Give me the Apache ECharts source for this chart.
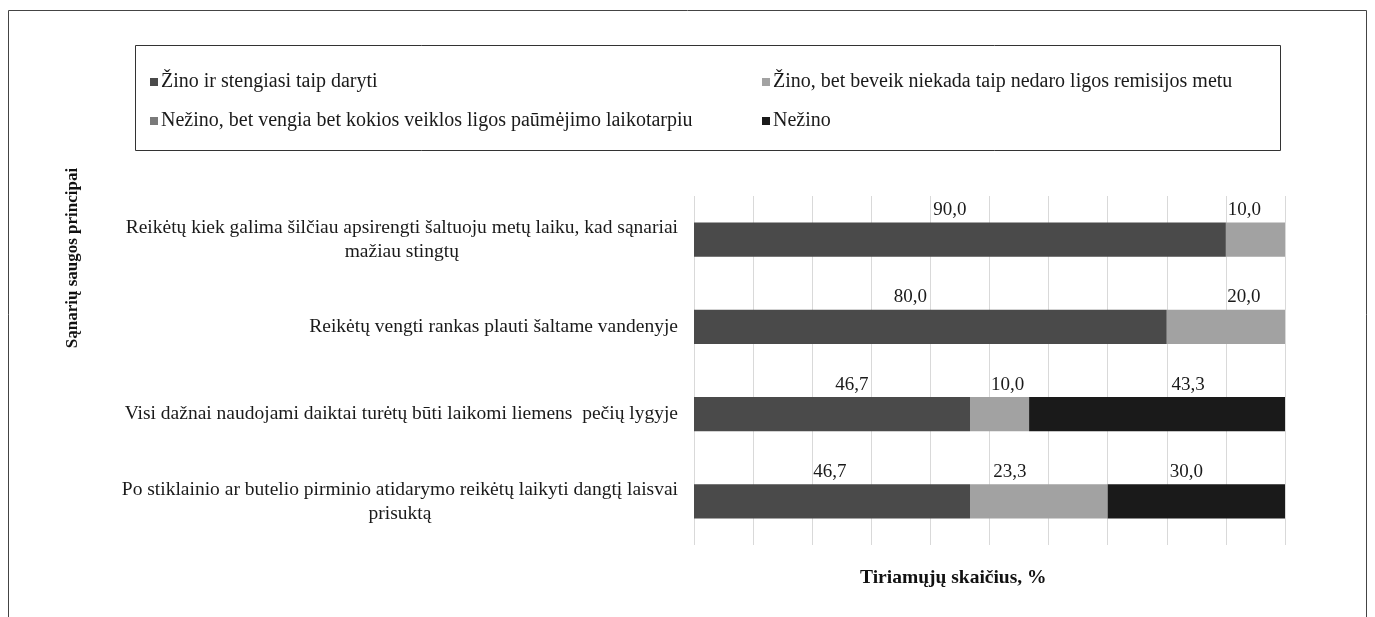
<!DOCTYPE html>
<html lang="lt">
<head>
    <meta charset="UTF-8">
    <title>Sąnarių saugos principai</title>
    <script src="https://cdn.jsdelivr.net/npm/echarts@6/dist/echarts.min.js"></script>
    <style type="text/css">
        html, body {
            margin: 0;
            padding: 0;
            background: #fff;
        }
        #main {
            width: 1375px;
            height: 617px;
        }
    </style>
</head>
<body>
<div id="main"></div>
<script>
    // kategorijos (nuo viršaus į apačią)
    var categories = [
        'Reikėtų kiek galima šilčiau apsirengti šaltuoju metų laiku, kad sąnariai\nmažiau stingtų',
        'Reikėtų vengti rankas plauti šaltame vandenyje',
        'Visi dažnai naudojami daiktai turėtų būti laikomi liemens  pečių lygyje',
        'Po stiklainio ar butelio pirminio atidarymo reikėtų laikyti dangtį laisvai\nprisuktą'
    ];
    var seriesNames = [
        'Žino ir stengiasi taip daryti',
        'Žino, bet beveik niekada taip nedaro ligos remisijos metu',
        'Nežino, bet vengia bet kokios veiklos ligos paūmėjimo laikotarpiu',
        'Nežino'
    ];
    var zinoStengiasi = [90.0, 80.0, 46.7, 46.7];
    var zinoNedaro = [10.0, 20.0, 10.0, 23.3];
    var nezinoVengia = [0, 0, 0, 0];
    var nezino = [0, 0, 43.3, 30.0];
    var xTicks = [0, 10, 20, 30, 40, 50, 60, 70, 80, 90, 100];

    // rankiniu būdu paslinktos reikšmių etiketės (px, horizontaliai)
    var labelNudge = [
        [-10, -20, 20, -2],
        [-11, 18, 8, -29],
        [0, 0, 0, 0],
        [0, 0, 31, -10]
    ];

    var colors = ['#4a4a4a', '#a2a2a2', '#7a7a7a', '#1a1a1a'];
    var serif = '"Liberation Serif", "DejaVu Serif", serif';

    var myChart = echarts.init(document.getElementById('main'));

    function makeSeries(idx, values) {
        return {
            name: seriesNames[idx],
            type: 'bar',
            stack: 'total',
            barWidth: '39%',
            itemStyle: {color: colors[idx]},
            label: {
                show: true,
                position: 'top',
                distance: 3,
                fontFamily: serif,
                fontSize: 19,
                color: '#1a1a1a',
                formatter: function (p) {
                    return p.value ? p.value.toFixed(1).replace('.', ',') : '';
                }
            },
            data: values.map(function (v, i) {
                return {value: v, label: {offset: [labelNudge[idx][i], 0]}};
            })
        };
    }

    var legendBase = {
        top: 67,
        orient: 'vertical',
        itemGap: 19,
        itemWidth: 8,
        itemHeight: 8,
        icon: 'rect',
        textStyle: {fontFamily: serif, fontSize: 20, color: '#1a1a1a', padding: [0, 0, 0, -2]}
    };

    var option = {
        animation: false,
        color: colors,
        textStyle: {fontFamily: serif},
        legend: [
            Object.assign({left: 145, data: [seriesNames[0], seriesNames[2]]}, legendBase),
            Object.assign({left: 757, data: [seriesNames[1], seriesNames[3]]}, legendBase)
        ],
        title: [{
            text: 'Tiriamųjų skaičius, %',
            left: 855,
            top: 563,
            textStyle: {fontFamily: serif, fontSize: 19.5, fontWeight: 'bold', color: '#111'}
        }],
        graphic: [{
            type: 'rect',
            shape: {x: 8.5, y: 10.5, width: 1358, height: 640},
            style: {fill: 'none', stroke: '#444', lineWidth: 1},
            silent: true
        }, {
            type: 'rect',
            shape: {x: 135.5, y: 45.5, width: 1145, height: 105},
            style: {fill: 'none', stroke: '#333', lineWidth: 1},
            silent: true
        }, {
            type: 'text',
            x: 73,
            y: 258,
            rotation: Math.PI / 2,
            style: {
                text: 'Sąnarių saugos principai',
                fontFamily: serif,
                fontSize: 17,
                fontWeight: 'bold',
                fill: '#111',
                align: 'center',
                verticalAlign: 'middle'
            }
        }],
        grid: {
            left: 694,
            right: 90,
            top: 196,
            bottom: 72,
            containLabel: false
        },
        xAxis: {
            type: 'value',
            min: xTicks[0],
            max: xTicks[xTicks.length - 1],
            interval: 10,
            axisLine: {show: false},
            axisTick: {show: false},
            axisLabel: {show: false},
            splitLine: {show: true, lineStyle: {color: '#d9d9d9', width: 1}}
        },
        yAxis: {
            type: 'category',
            inverse: true,
            data: categories,
            axisLine: {show: false},
            axisTick: {show: false},
            axisLabel: {
                margin: 16,
                fontFamily: serif,
                fontSize: 19.5,
                color: '#1a1a1a',
                lineHeight: 24,
                formatter: function (v) {
                    return v.split('\n').map(function (s) {
                        return '{c|' + s + '}';
                    }).join('\n');
                },
                rich: {
                    c: {align: 'center', fontFamily: serif, fontSize: 19.5, lineHeight: 24, color: '#1a1a1a'}
                }
            }
        },
        series: [
            makeSeries(0, zinoStengiasi),
            makeSeries(1, zinoNedaro),
            makeSeries(2, nezinoVengia),
            makeSeries(3, nezino)
        ]
    };
    myChart.setOption(option);
</script>
</body>
</html>
